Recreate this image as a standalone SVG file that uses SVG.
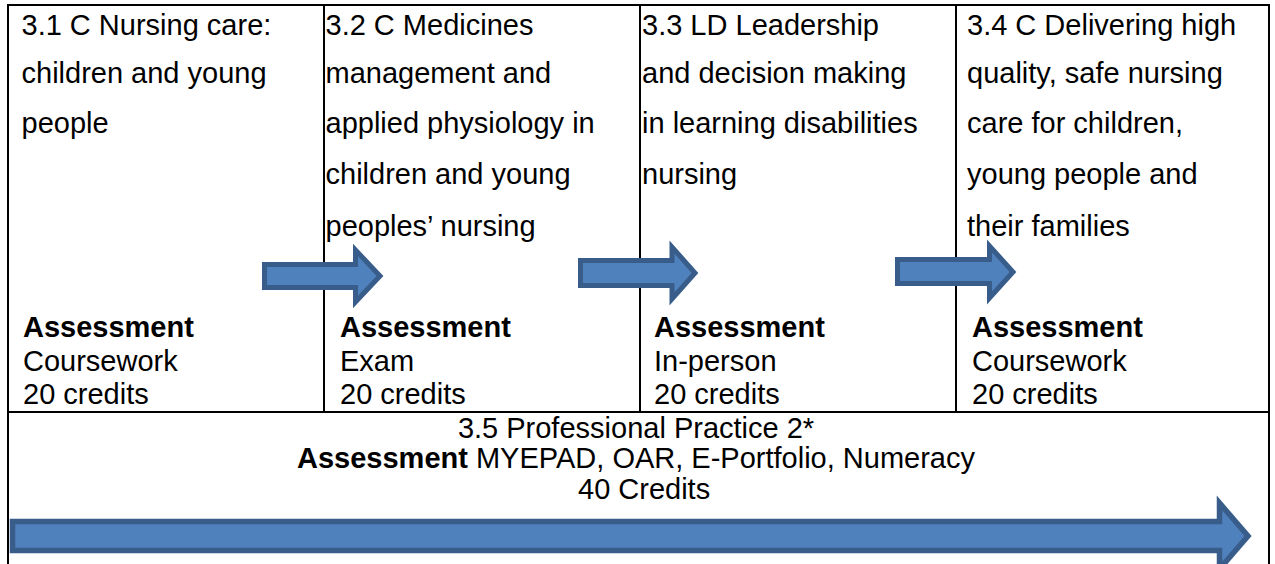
<svg xmlns="http://www.w3.org/2000/svg" width="1275" height="564" viewBox="0 0 1275 564">
<style>
text{font-family:"Liberation Sans",Arial,sans-serif;font-size:29px;fill:#000}
.b{font-weight:bold}
.grid{stroke:#000;stroke-width:2;fill:none}
.arr{fill:#4F81BD;stroke:#385D8A;stroke-width:5;stroke-linejoin:miter}
</style>
<rect width="1275" height="564" fill="#fff"/>
<g id="table" class="grid">
<line x1="7" y1="5" x2="1270" y2="5"/>
<line x1="8" y1="4" x2="8" y2="564"/>
<line x1="1269" y1="4" x2="1269" y2="564"/>
<line x1="324" y1="5" x2="324" y2="412"/>
<line x1="640" y1="5" x2="640" y2="412"/>
<line x1="956" y1="5" x2="956" y2="412"/>
<line x1="8" y1="412" x2="1269" y2="412"/>
</g>
<g id="node-3-1">
<text x="21.5" y="35">3.1 C Nursing care:</text>
<text x="21.5" y="83">children and young</text>
<text x="21.5" y="133">people</text>
<text x="23" y="337" class="b">Assessment</text>
<text x="23" y="371">Coursework</text>
<text x="23" y="403.5">20 credits</text>
</g>
<g id="node-3-2">
<text x="325.5" y="35">3.2 C Medicines</text>
<text x="325.5" y="83">management and</text>
<text x="325.5" y="133">applied physiology in</text>
<text x="325.5" y="184">children and young</text>
<text x="325.5" y="235.5">peoples’ nursing</text>
<text x="340" y="337" class="b">Assessment</text>
<text x="340" y="371">Exam</text>
<text x="340" y="403.5">20 credits</text>
</g>
<g id="node-3-3">
<text x="642" y="35">3.3 LD Leadership</text>
<text x="642" y="83">and decision making</text>
<text x="642" y="133">in learning disabilities</text>
<text x="642" y="184">nursing</text>
<text x="654" y="337" class="b">Assessment</text>
<text x="654" y="371">In-person</text>
<text x="654" y="403.5">20 credits</text>
</g>
<g id="node-3-4">
<text x="967" y="35">3.4 C Delivering high</text>
<text x="967" y="83">quality, safe nursing</text>
<text x="967" y="133">care for children,</text>
<text x="967" y="184">young people and</text>
<text x="967" y="235.5">their families</text>
<text x="972" y="337" class="b">Assessment</text>
<text x="972" y="371">Coursework</text>
<text x="972" y="403.5">20 credits</text>
</g>
<g id="node-3-5">
<text x="636" y="438" text-anchor="middle">3.5 Professional Practice 2*</text>
<text x="636" y="468" text-anchor="middle"><tspan class="b">Assessment</tspan> MYEPAD, OAR, E-Portfolio, Numeracy</text>
<text x="578" y="498.5">40 Credits</text>
</g>
<g id="connectors">
<path class="arr" d="M264.5,264.5 H355.5 V250 L380,276 L355.5,302 V287.5 H264.5 Z"/>
<path class="arr" d="M580.5,260.5 H672 V247 L695,273 L672,299 V285.5 H580.5 Z"/>
<path class="arr" d="M897.5,259.5 H989.5 V246 L1013,272 L989.5,298 V283.5 H897.5 Z"/>
<path class="arr" style="stroke-width:5.5" d="M12.5,521.5 H1219.5 V503 L1248,536 L1219.5,569 V550.5 H12.5 Z"/>
</g>
</svg>
